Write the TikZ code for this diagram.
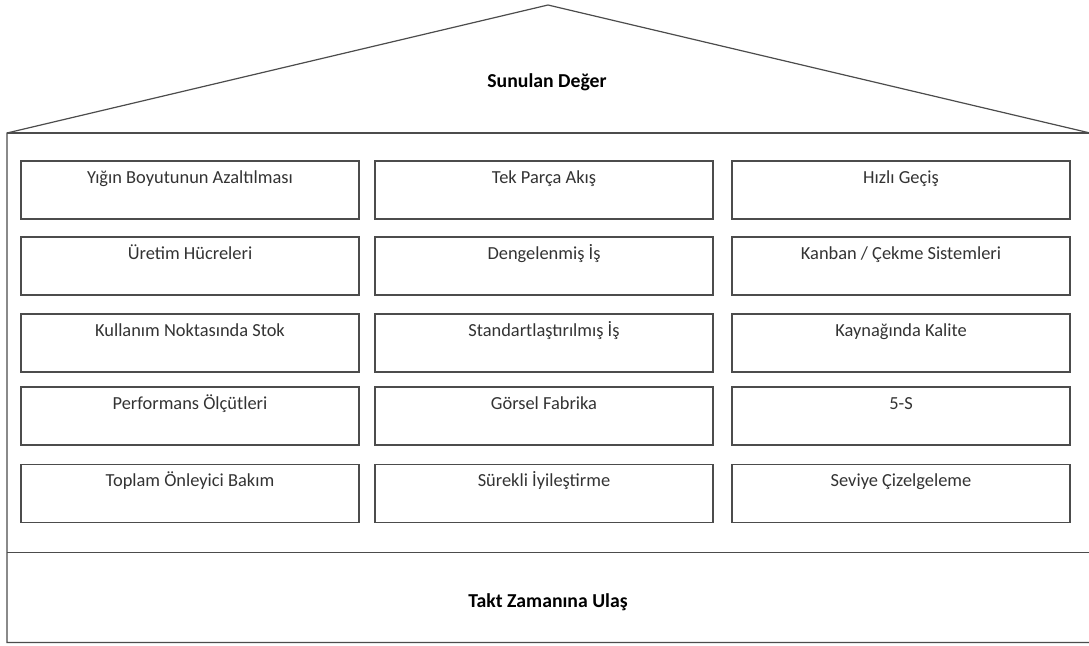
\documentclass[tikz,border=0pt]{standalone}
\usepackage{fontspec}
\setmainfont{Carlito}
\usetikzlibrary{calc}
\newcommand{\linecolor}{black!70}
\newcommand{\thickness}{0.9pt}
\newcommand{\boxwidth}{253.5pt}
\tikzset{pillar/.style={draw=\linecolor, line width=\thickness, minimum width=\boxwidth, inner xsep=0pt, inner ysep=0pt, text height=16.5pt, text depth=27pt, font=\fontsize{13.8}{16}\selectfont, text=black!80}}
\tikzset{title/.style={font=\fontsize{14.8}{17}\selectfont\bfseries, text=black}}

\begin{document}
\begin{tikzpicture}[x=0.75pt, y=-0.75pt]
\useasboundingbox[fill=white] (0,0) rectangle (1089,646);
%roof and frame
\coordinate (apex) at (548,5);
\coordinate (eaveL) at (7,133);
\coordinate (eaveR) at (1090,133);
\coordinate (floorL) at (7,552.5);
\coordinate (floorR) at (1090,552.5);
\coordinate (baseL) at (7,642.5);
\coordinate (baseR) at (1090,642.5);
\draw[\linecolor] [line width = \thickness] (eaveL) -- (apex) -- (eaveR) -- (baseR) -- (baseL) -- cycle;
\draw[\linecolor] [line width = \thickness] (eaveL) -- (eaveR);
\draw[\linecolor] [line width = \thickness] (floorL) -- (floorR);
\node[title] (value) at (547,82) {Sunulan Değer};
\node[title] (takt) at (548,602) {Takt Zamanına Ulaş};
%row 1
\node[pillar] (lot) at (190,190) {Yığın Boyutunun Azaltılması};
\node[pillar] (flow) at (544,190) {Tek Parça Akış};
\node[pillar] (changeover) at (901,190) {Hızlı Geçiş};
%row 2
\node[pillar] (cells) at (190,266) {Üretim Hücreleri};
\node[pillar] (balanced) at (544,266) {Dengelenmiş İş};
\node[pillar] (kanban) at (901,266) {Kanban / Çekme Sistemleri};
%row 3
\node[pillar] (stock) at (190,343) {Kullanım Noktasında Stok};
\node[pillar] (standard) at (544,343) {Standartlaştırılmış İş};
\node[pillar] (quality) at (901,343) {Kaynağında Kalite};
%row 4
\node[pillar] (metrics) at (190,416) {Performans Ölçütleri};
\node[pillar] (visual) at (544,416) {Görsel Fabrika};
\node[pillar] (fives) at (901,416) {5-S};
%row 5
\node[pillar] (tpm) at (190,493.5) {Toplam Önleyici Bakım};
\node[pillar] (kaizen) at (544,493.5) {Sürekli İyileştirme};
\node[pillar] (leveling) at (901,493.5) {Seviye Çizelgeleme};
\end{tikzpicture}
\end{document}
